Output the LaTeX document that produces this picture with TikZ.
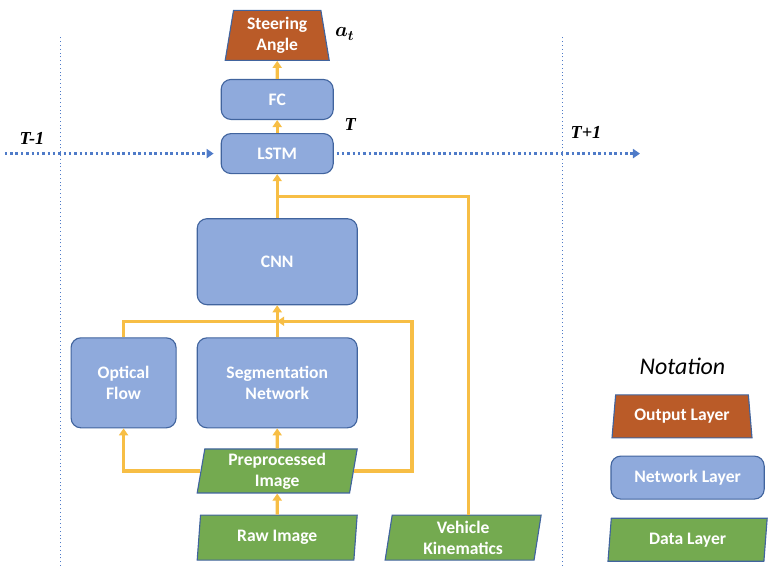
\documentclass[tikz,border=0pt]{standalone}
\usepackage{fontspec}
\setmainfont{Carlito}
\newfontfamily\labelserif{Liberation Serif}
\usetikzlibrary{positioning,calc}
\usetikzlibrary{arrows.meta}
\usetikzlibrary{shapes.geometric}
\definecolor{netblue}{HTML}{8FAADC}
\definecolor{edgeblue}{HTML}{41649E}
\definecolor{datagreen}{HTML}{74AA50}
\definecolor{outbrown}{HTML}{BA5B28}
\definecolor{flowyellow}{HTML}{F7BE45}
\definecolor{timeblue}{HTML}{4F7BC8}
\tikzset{
   layer/.style={draw=edgeblue, line width=0.8pt, text=white, align=center,
      inner sep=1pt, font=\bfseries\fontsize{12.5}{15}\selectfont},
   netlayer/.style={layer, fill=netblue, rectangle, rounded corners=7pt},
   datalayer/.style={layer, fill=datagreen, trapezium, trapezium left angle=79,
      trapezium right angle=101, trapezium stretches body},
   outlayer/.style={layer, fill=outbrown, trapezium, trapezium left angle=78,
      trapezium right angle=78, trapezium stretches body},
   flow/.style={draw=flowyellow, line width=2.2pt, -{Triangle[width=6.5pt,length=5pt]}},
   flowline/.style={draw=flowyellow, line width=2.2pt},
   timeline/.style={draw=timeblue, line width=1.8pt, dotted, -{Triangle[width=6.5pt,length=5pt]}},
   timesep/.style={draw=timeblue, line width=0.7pt, dotted},
   timelabel/.style={font=\labelserif\bfseries\itshape\fontsize{13}{15}\selectfont}
}
\begin{document}
\begin{tikzpicture}
      \useasboundingbox (0,0) rectangle (19.2,14.15);

      \node[datalayer, minimum width=4cm, minimum height=1.125cm] (raw) at (6.93,0.71) {Raw Image};
      \node[datalayer, minimum width=4cm, minimum height=1.1cm, above=0.525cm of raw] (pre) {Preprocessed\\Image};
      \node[netlayer, minimum width=4cm, minimum height=2.25cm, above=0.5cm of pre] (seg) {Segmentation\\Network};
      \node[netlayer, minimum width=2.625cm, minimum height=2.25cm, left=0.5cm of seg] (opt) {Optical\\Flow};
      \node[netlayer, minimum width=4cm, minimum height=2.15cm, above=0.8cm of seg] (cnn) {CNN};
      \node[netlayer, minimum width=2.8cm, minimum height=1cm, above=1.1cm of cnn] (lstm) {LSTM};
      \node[netlayer, minimum width=2.8cm, minimum height=1cm, above=0.325cm of lstm] (fc) {FC};
      \node[outlayer, minimum width=2.6cm, minimum height=1.25cm, above=0.45cm of fc] (out) {Steering\\Angle};
      \node[datalayer, minimum width=3.9cm, minimum height=1.125cm, right=0.8cm of raw] (veh) {Vehicle\\Kinematics};

      \node[font=\boldmath\fontsize{14}{16}\selectfont] (act) at (8.62,13.3) {$a_t$};
      \node[timelabel] (tprev) at (0.8,10.7) {T-1};
      \node[timelabel, above right=-0.05cm and 0.15cm of lstm.north east] (tnow) {T};
      \node[timelabel] (tnext) at (14.65,10.83) {T+1};

      \coordinate (tstart) at (0.12,0 |- lstm.west);
      \coordinate (tend) at (16.0,0 |- lstm.east);
      \draw[timesep] (1.5,0) -- (1.5,13.28);
      \draw[timesep] (14.05,0) -- (14.05,13.28);
      \draw[timeline, shorten >=5pt] (tstart) -- (lstm.west);
      \draw[timeline, shorten <=2pt] (lstm.east) -- (tend);

      \coordinate (mixin) at ($(seg.north)!0.5!(cnn.south)$);
      \coordinate (preturn) at ($(mixin)+(3.37,0)$);
      \coordinate (kinjoin) at ($(cnn.north)!0.5!(lstm.south)$);

      \draw[flow] (raw) -- (pre);
      \draw[flow] (pre) -- (seg);
      \draw[flow] (pre.west) -| (opt.south);
      \draw[flowline] (opt.north) |- (mixin);
      \draw[flow] (pre.east) -| (preturn) -- (mixin);
      \draw[flow] (seg) -- (cnn);
      \draw[flowline] ($(veh.north)+(0.13,0)$) |- (kinjoin);
      \draw[flow] (cnn) -- (lstm);
      \draw[flow] (lstm) -- (fc);
      \draw[flow] (fc) -- (out);

      \node[font=\itshape\fontsize{17}{20}\selectfont] (notn) at (17.06,5.0) {Notation};
      \node[outlayer, minimum width=3.5cm, minimum height=1.075cm] (outkey) at (17.05,3.74) {Output Layer};
      \node[netlayer, minimum width=3.83cm, minimum height=1.075cm] (netkey) at (17.19,2.21) {Network Layer};
      \node[datalayer, minimum width=3.98cm, minimum height=1.075cm, below=0.45cm of netkey] (datakey) {Data Layer};
\end{tikzpicture}
\end{document}
